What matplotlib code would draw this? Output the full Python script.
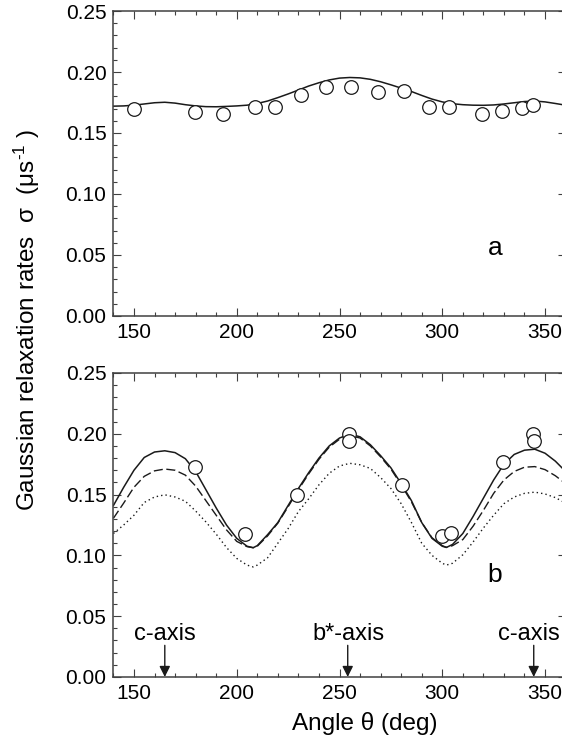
import matplotlib
matplotlib.use("Agg")
import matplotlib.pyplot as plt
from matplotlib.ticker import MultipleLocator, FormatStrFormatter

plt.rcParams['font.family'] = ['Liberation Sans', 'DejaVu Sans']
plt.rcParams['mathtext.fontset'] = 'custom'
plt.rcParams['mathtext.rm'] = 'Liberation Sans'
plt.rcParams['mathtext.it'] = 'Liberation Sans'

# ---- panel a : data ----
a_theta = [149.9, 179.5, 193.3, 208.7, 218.8, 231.3, 243.5, 255.4, 268.8,
           281.6, 293.6, 303.4, 319.4, 329.0, 338.8, 344.3]
a_sigma = [0.1700, 0.1670, 0.1657, 0.1712, 0.1712, 0.1812, 0.1878, 0.1873, 0.1834,
           0.1848, 0.1712, 0.1714, 0.1657, 0.1681, 0.1706, 0.1728]

# ---- panel a : fit curve ----
a_fit_theta = [140, 145, 150, 155, 160, 165, 170, 175, 180, 185, 190, 195, 200,
               205, 210, 215, 220, 225, 230, 235, 240, 245, 250, 255, 260, 265,
               270, 275, 280, 285, 290, 295, 300, 305, 310, 315, 320, 325, 330,
               335, 340, 345, 350, 355, 360]
a_fit_sigma = [0.1720, 0.1722, 0.1728, 0.1738, 0.1748, 0.1752, 0.1745, 0.1732,
               0.1722, 0.1716, 0.1715, 0.1718, 0.1722, 0.1728, 0.1742, 0.1762,
               0.1790, 0.1820, 0.1852, 0.1885, 0.1912, 0.1935, 0.1950, 0.1955,
               0.1952, 0.1940, 0.1920, 0.1895, 0.1868, 0.1840, 0.1808, 0.1778,
               0.1755, 0.1740, 0.1732, 0.1728, 0.1727, 0.1730, 0.1738, 0.1748,
               0.1758, 0.1762, 0.1755, 0.1742, 0.1728]

# ---- panel b : data ----
b_theta = [179.5, 204.0, 229.2, 254.4, 254.4, 280.5, 299.7, 304.2, 329.5, 344.3, 344.6]
b_sigma = [0.1730, 0.1179, 0.1497, 0.1998, 0.1938, 0.1579, 0.1160, 0.1180, 0.1771,
           0.1998, 0.1938]

# ---- panel b : model curves ----
b_fit_theta = [140, 145, 150, 155, 160, 165, 170, 175, 180, 185, 190, 195, 200,
               205, 208, 210, 215, 220, 225, 230, 235, 240, 245, 250, 255, 260,
               265, 270, 275, 280, 285, 290, 295, 300, 302, 305, 310, 315, 320,
               325, 330, 335, 340, 345, 350, 355, 360]
b_solid = [0.141, 0.156, 0.170, 0.1805, 0.185, 0.186, 0.1845, 0.1795, 0.169,
           0.154, 0.139, 0.125, 0.114, 0.1075, 0.1063, 0.108, 0.117, 0.127,
           0.141, 0.155, 0.168, 0.180, 0.190, 0.1965, 0.1998, 0.1975, 0.191,
           0.182, 0.172, 0.159, 0.145, 0.127, 0.114, 0.1075, 0.1065, 0.109,
           0.118, 0.132, 0.147, 0.162, 0.175, 0.183, 0.1865, 0.1873, 0.184,
           0.1775, 0.169]
b_dashed = [0.1305, 0.143, 0.156, 0.165, 0.1695, 0.171, 0.170, 0.166, 0.157,
            0.145, 0.133, 0.121, 0.1115, 0.1072, 0.1063, 0.1075, 0.116, 0.1265,
            0.140, 0.154, 0.167, 0.179, 0.189, 0.1955, 0.1985, 0.1965, 0.190,
            0.181, 0.171, 0.158, 0.144, 0.127, 0.1145, 0.108, 0.1066, 0.108,
            0.113, 0.124, 0.137, 0.151, 0.162, 0.169, 0.1725, 0.173, 0.1705,
            0.1655, 0.159]
b_dotted = [0.118, 0.125, 0.133, 0.1435, 0.148, 0.1498, 0.148, 0.1445, 0.1365,
            0.1275, 0.1175, 0.1065, 0.0975, 0.092, 0.0905, 0.092, 0.098, 0.110,
            0.122, 0.136, 0.1465, 0.158, 0.1675, 0.1735, 0.1757, 0.1745, 0.1715,
            0.164, 0.155, 0.1425, 0.127, 0.110, 0.100, 0.0935, 0.092, 0.0935,
            0.1005, 0.111, 0.1225, 0.133, 0.1425, 0.148, 0.151, 0.152, 0.1505,
            0.1475, 0.143]

axis_labels = ["c-axis", "b*-axis", "c-axis"]
axis_arrow_theta = [165, 254, 344.5]
axis_text_theta = [165, 254.5, 342]

line_col = '#1a1a1a'
spine_col = '#404040'

fig = plt.figure(figsize=(5.62, 7.44), dpi=100)
ax_a = fig.add_axes([0.2018, 0.5753, 0.8046, 0.4099])
ax_b = fig.add_axes([0.2018, 0.0901, 0.8046, 0.4086])

for ax in (ax_a, ax_b):
    ax.set_xlim(140, 360)
    ax.set_ylim(0.0, 0.25)
    ax.xaxis.set_major_locator(MultipleLocator(50))
    ax.xaxis.set_minor_locator(MultipleLocator(10))
    ax.yaxis.set_major_locator(MultipleLocator(0.05))
    ax.yaxis.set_minor_locator(MultipleLocator(0.01))
    ax.yaxis.set_major_formatter(FormatStrFormatter('%.2f'))
    ax.tick_params(which='both', direction='in', top=True, right=True,
                   color=spine_col, width=0.8)
    ax.tick_params(which='major', length=5.5, labelsize=15, pad=5)
    ax.tick_params(which='minor', length=3.0)
    for s in ax.spines.values():
        s.set_color(spine_col)
        s.set_linewidth(1.1)

# panel a
ax_a.plot(a_fit_theta, a_fit_sigma, color=line_col, lw=1.1, zorder=2)
ax_a.plot(a_theta, a_sigma, 'o', ms=9.8, mfc='white', mec=line_col, mew=0.9, zorder=3)
ax_a.text(326, 0.0555, 'a', fontsize=19, ha='center', va='center')

# panel b
ax_b.plot(b_fit_theta, b_dotted, color=line_col, lw=1.0, dashes=(1.0, 2.2), zorder=2)
ax_b.plot(b_fit_theta, b_dashed, color=line_col, lw=1.0, dashes=(6.5, 2.6), zorder=2)
ax_b.plot(b_fit_theta, b_solid, color=line_col, lw=1.1, zorder=2)
ax_b.plot(b_theta, b_sigma, 'o', ms=9.8, mfc='white', mec=line_col, mew=0.9, zorder=3)
ax_b.text(325.5, 0.084, 'b', fontsize=19, ha='center', va='center')

for lab, xa, xt in zip(axis_labels, axis_arrow_theta, axis_text_theta):
    ax_b.annotate('', xy=(xa, 0.0), xytext=(xa, 0.026),
                  arrowprops=dict(arrowstyle='-|>', color=line_col, lw=1.0,
                                  mutation_scale=16, shrinkA=0, shrinkB=0))
    ax_b.text(xt, 0.030, lab, fontsize=17, ha='center', va='baseline')

fig.text(0.649, 0.0188, 'Angle θ (deg)', fontsize=17.5, ha='center', va='baseline')
fig.text(0.048, 0.570, r'Gaussian relaxation rates  σ  (μs$^{\mathrm{\text{-}}1}$ )',
         fontsize=17.5, rotation=90, ha='center', va='center')

fig.savefig('out.png', dpi=100)
